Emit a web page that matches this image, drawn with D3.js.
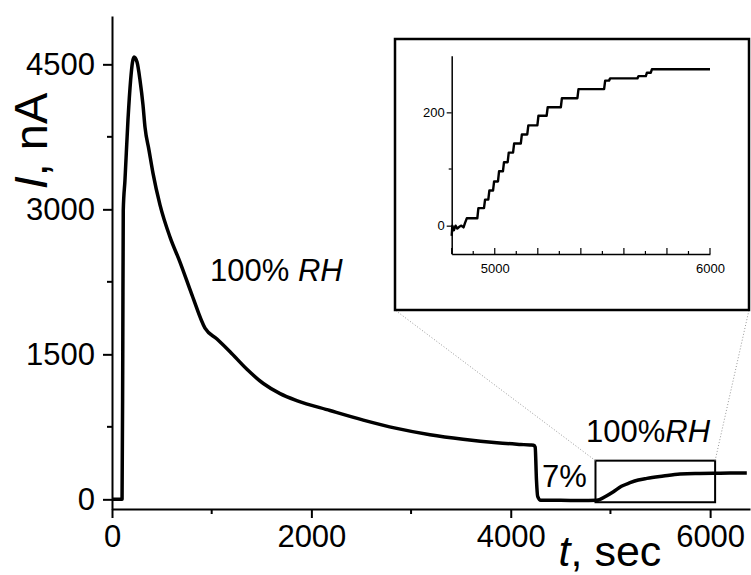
<!DOCTYPE html>
<html>
<head>
<meta charset="utf-8">
<script src="https://cdn.jsdelivr.net/npm/d3@7"></script>
<style>
body{margin:0;background:#fff}
svg{display:block;font-family:"Liberation Sans",Arial,sans-serif}
</style>
</head>
<body>
<svg id="chart" width="751" height="575"></svg>
<script>
// main trace, time in sec and current in nA
const mainT = [0,101,108,113,130,160,187,205,221,251,281,311,331,371,411,482,582,682,803,933,1053,1184,1351,1518,1686,1853,2187,2521,2856,3190,3521,3860,4100,4194,4230,4245,4258,4270,4300,4500,4700,4862,4950,5030,5110,5197,5280,5365,5531,5698,5850,6030,6200,6368];
const mainI = [0,0,1500,2990,3300,3920,4340,4520,4575,4523,4336,4078,3850,3613,3375,3044,2713,2455,2113,1772,1658,1527,1348,1198,1094,1022,919,820,734,668,621,585,568,562,560,540,200,30,-10,-10,-12,-10,30,79,135,172,200,217,241,262,268,269,272,272];

// inset trace: start time and level of each step
const insetT = [4800,4803,4810,4818,4826,4835,4845,4855,4862,4870,4924,4955,4975,4997,5020,5043,5065,5090,5126,5156,5203,5246,5312,5389,5513,5536,5668,5707,5730,6000];
const insetI = [-18,0,-8,0,-5,-2,0,-3,5,13,31,46,62,78,96,112,129,145,161,177,194,209,225,241,256,260,264,270,276,276];

const xTicks = [0,2000,4000,6000];
const xMinor = [1000,3000,5000];
const yTicks = [0,1500,3000,4500];
const yMinor = [750,2250,3750];
const insetXTicks = [5000,6000];
const insetXMinor = [4800,4900,5100,5200,5300,5400,5500,5600,5700,5800,5900];
const insetYTicks = [0,200];
const insetYMinor = [100];

// zoomed window marked on the main trace
const zoomT = [4850,6050];
const zoomI = [-30,400];

const svg = d3.select("#chart");
const fmt = d3.format("d");

// main scales
const x = d3.scaleLinear().domain([0,6400]).range([112,750]);
const y = d3.scaleLinear().domain([-100,5000]).range([509,16]);

function styleAxis(g, size){
  g.select(".domain").attr("stroke","#000").attr("stroke-width",2);
  g.selectAll(".tick line").attr("stroke","#000").attr("stroke-width",2);
  g.selectAll(".tick text").attr("font-size",size).attr("fill","#000");
}

const gx = svg.append("g").attr("transform","translate(0,509)")
  .call(d3.axisBottom(x).tickValues(xTicks).tickFormat(fmt).tickSize(9).tickPadding(7).tickSizeOuter(0));
styleAxis(gx, 31);
gx.selectAll(".minor").data(xMinor).enter().append("line")
  .attr("x1",d=>x(d)).attr("x2",d=>x(d)).attr("y1",0).attr("y2",5)
  .attr("stroke","#000").attr("stroke-width",2);

const gy = svg.append("g").attr("transform","translate(112,0)")
  .call(d3.axisLeft(y).tickValues(yTicks).tickFormat(fmt).tickSize(9).tickPadding(8).tickSizeOuter(0));
styleAxis(gy, 31);
gy.selectAll(".minor").data(yMinor).enter().append("line")
  .attr("y1",d=>y(d)).attr("y2",d=>y(d)).attr("x1",0).attr("x2",-5)
  .attr("stroke","#000").attr("stroke-width",2);

// main curve
const mainData = mainT.map((t,i)=>[t,mainI[i]]);
svg.append("path").datum(mainData)
  .attr("fill","none").attr("stroke","#000").attr("stroke-width",3.5)
  .attr("stroke-linejoin","round")
  .attr("d", d3.line().x(d=>x(d[0])).y(d=>y(d[1])).curve(d3.curveMonotoneX));

// zoom window
const zx0 = x(zoomT[0]), zx1 = x(zoomT[1]), zy0 = y(zoomI[1]), zy1 = y(zoomI[0]);
svg.append("rect").attr("x",zx0).attr("y",zy0).attr("width",zx1-zx0).attr("height",zy1-zy0)
  .attr("fill","none").attr("stroke","#000").attr("stroke-width",2);

// inset frame
const box = {x0:395, y0:39, x1:749, y1:310};
svg.append("line").attr("x1",zx0).attr("y1",zy0).attr("x2",box.x0).attr("y2",box.y1)
  .attr("stroke","#999").attr("stroke-width",1).attr("stroke-dasharray","1,2");
svg.append("line").attr("x1",zx1).attr("y1",zy0).attr("x2",box.x1).attr("y2",box.y1)
  .attr("stroke","#999").attr("stroke-width",1).attr("stroke-dasharray","1,2");
svg.append("rect").attr("x",box.x0).attr("y",box.y0).attr("width",box.x1-box.x0).attr("height",box.y1-box.y0)
  .attr("fill","#fff").attr("stroke","#000").attr("stroke-width",2.5);

// inset scales
const ix = d3.scaleLinear().domain([4800,6000]).range([451.7,710]);
const iy = d3.scaleLinear().domain([-50,300]).range([254,55.7]);

const igx = svg.append("g").attr("transform","translate(0,254)")
  .call(d3.axisBottom(ix).tickValues(insetXTicks).tickFormat(fmt).tickSize(0).tickPadding(10).tickSizeOuter(0));
styleAxis(igx, 13);
igx.select(".domain").attr("stroke-width",1.5);
igx.selectAll(".tk").data(insetXTicks.concat(insetXMinor)).enter().append("line")
  .attr("x1",d=>ix(d)).attr("x2",d=>ix(d)).attr("y1",0)
  .attr("y2",d=>d%200===0?-6:-3)
  .attr("stroke","#000").attr("stroke-width",1.2);

const igy = svg.append("g").attr("transform","translate(451.7,0)")
  .call(d3.axisLeft(iy).tickValues(insetYTicks).tickFormat(fmt).tickSize(5).tickPadding(2).tickSizeOuter(0));
styleAxis(igy, 13);
igy.select(".domain").attr("stroke-width",1.5);
igy.selectAll(".tick line").attr("stroke-width",1.2);
igy.selectAll(".minor").data(insetYMinor).enter().append("line")
  .attr("y1",d=>iy(d)).attr("y2",d=>iy(d)).attr("x1",0).attr("x2",-3)
  .attr("stroke","#000").attr("stroke-width",1.2);

// each step: hold the level, then climb to the next over a few seconds
const insetData = [];
insetT.forEach((t,i)=>{
  insetData.push([t,insetI[i]]);
  if(i<insetT.length-1 && insetT[i+1]-t>12) insetData.push([insetT[i+1]-5,insetI[i]]);
});
svg.append("path").datum(insetData)
  .attr("fill","none").attr("stroke","#000").attr("stroke-width",2.4)
  .attr("stroke-linejoin","round")
  .attr("d", d3.line().x(d=>ix(d[0])).y(d=>iy(d[1])));

// labels
const yl = svg.append("text").attr("transform","translate(47,141) rotate(-90)")
  .attr("text-anchor","middle").attr("font-size",47);
yl.append("tspan").attr("font-style","italic").text("I");
yl.append("tspan").text(", nA");

const xl = svg.append("text").attr("x",610).attr("y",566)
  .attr("text-anchor","middle").attr("font-size",43);
xl.append("tspan").attr("font-style","italic").text("t");
xl.append("tspan").text(", sec");

const a1 = svg.append("text").attr("x",x(983)).attr("y",y(2257)).attr("font-size",31);
a1.append("tspan").text("100% ");
a1.append("tspan").attr("font-style","italic").text("RH");

const a2 = svg.append("text").attr("x",586).attr("y",441.7).attr("font-size",31);
a2.append("tspan").text("100%");
a2.append("tspan").attr("font-style","italic").text("RH");

svg.append("text").attr("x",542).attr("y",486.7).attr("font-size",31).text("7%");
</script>
</body>
</html>
